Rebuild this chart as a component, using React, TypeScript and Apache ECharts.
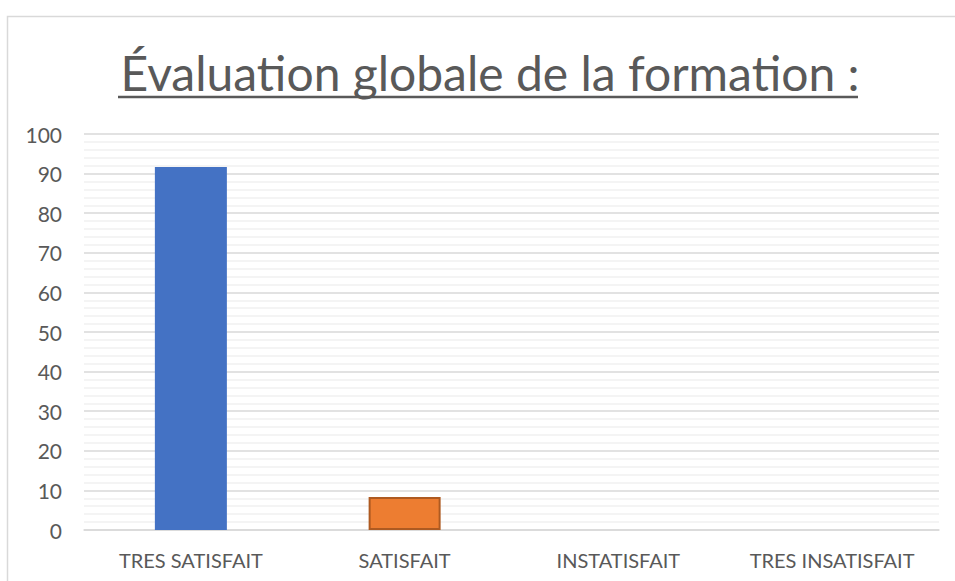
import React, { useEffect, useRef } from "react";
import * as echarts from "echarts";

const categories = ["TRES SATISFAIT", "SATISFAIT", "INSTATISFAIT", "TRES INSATISFAIT"];
const values = [91.67, 8.33, 0, 0];
const barColors = ["#4472C4", "#ED7D31", "#A5A5A5", "#FFC000"];
const barBorders = ["#4472C4", "#AE5A21", "#A5A5A5", "#FFC000"];
const titleText = "Évaluation globale de la formation :";

export default function App() {
  const ref = useRef<HTMLDivElement>(null);
  useEffect(() => {
    const chart = echarts.init(ref.current!, null, { renderer: "svg" });
    chart.setOption({
      animation: false,
      backgroundColor: "#ffffff",
      title: {
        text: titleText,
        left: 485,
        textAlign: "center",
        top: 43,
        textStyle: {
          fontFamily: "Lato",
          fontSize: 48,
          fontWeight: "normal",
          color: "#595959",
        },
      },
      graphic: [
        {
          type: "rect",
          shape: { x: 7.5, y: 16.5, width: 1000, height: 700 },
          style: { fill: "none", stroke: "#d9d9d9", lineWidth: 1.5 },
          silent: true,
        },
        {
          type: "line",
          shape: { x1: 118, y1: 97, x2: 858, y2: 97 },
          style: { stroke: "#595959", lineWidth: 2.5 },
          silent: true,
        },
      ],
      grid: { left: 84, right: 16, top: 134, bottom: 51 },
      xAxis: {
        type: "category",
        data: categories,
        axisLine: { show: true, lineStyle: { color: "#d9d9d9", width: 1.5 } },
        axisTick: { show: false },
        axisLabel: {
          interval: 0,
          fontFamily: "Lato",
          fontSize: 20,
          color: "#595959",
          margin: 20,
        },
      },
      yAxis: {
        type: "value",
        min: 0,
        max: 100,
        interval: 10,
        axisLine: { show: false },
        axisTick: { show: false },
        axisLabel: {
          fontFamily: "Lato",
          fontSize: 21,
          color: "#595959",
          margin: 22,
        },
        splitLine: { lineStyle: { color: "#d9d9d9", width: 1.5 } },
        minorTick: { show: false, splitNumber: 5 },
        minorSplitLine: { show: true, lineStyle: { color: "#f0f0f0", width: 1.5 } },
      },
      series: [
        {
          type: "bar",
          barWidth: 72,
          data: values.map((v, i) => ({
            value: v,
            itemStyle: {
              color: barColors[i],
              borderColor: barBorders[i],
              borderWidth: i === 1 ? 2 : 0,
            },
          })),
        },
      ],
    });
    return () => chart.dispose();
  }, []);
  return (
    <div
      ref={ref}
      style={{ position: "fixed", left: 0, top: 0, width: 955, height: 581 }}
    />
  );
}
